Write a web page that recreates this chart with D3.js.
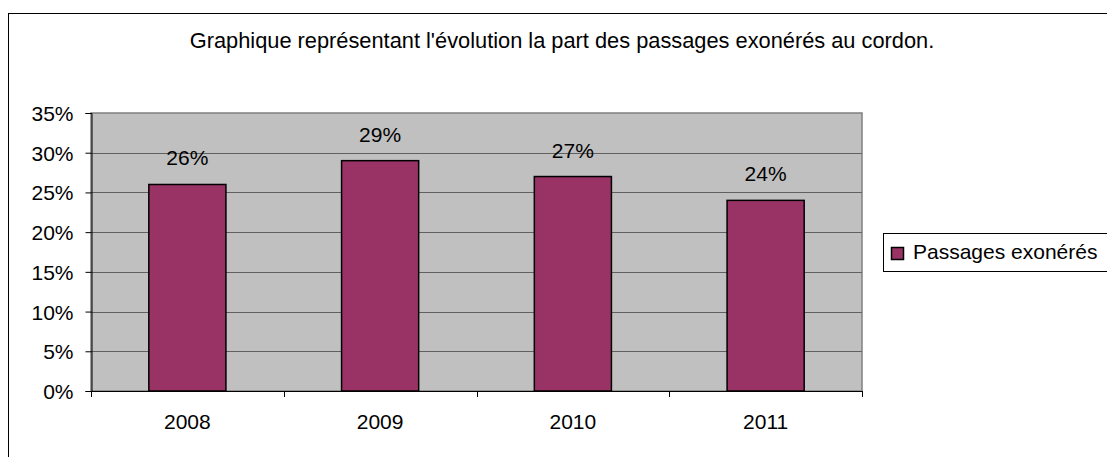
<!DOCTYPE html>
<html>
<head>
<meta charset="utf-8">
<script src="https://cdn.jsdelivr.net/npm/d3@7"></script>
<style>
  body { margin: 0; background: #fff; }
  svg text { font-family: "Liberation Sans", Arial, sans-serif; fill: #000; }
</style>
</head>
<body>
<div id="chart"></div>
<script>
// data
var years = ["2008", "2009", "2010", "2011"];
var shares = [26, 29, 27, 24];
var yTicks = [0, 5, 10, 15, 20, 25, 30, 35];
var seriesName = "Passages exonérés";
var title = "Graphique représentant l'évolution la part des passages exonérés au cordon.";

var W = 1107, H = 457;
var plot = { left: 91, top: 113, right: 862, bottom: 391 };
var fs = "21px";

var svg = d3.select("#chart").append("svg")
    .attr("width", W)
    .attr("height", H);

// outer frame (cut off on the right / bottom in the picture)
svg.append("rect")
    .attr("x", 8.5).attr("y", 13.5)
    .attr("width", 1102).attr("height", 460)
    .attr("fill", "#fff")
    .attr("stroke", "#000")
    .attr("stroke-width", 1);

svg.append("text")
    .attr("x", 562).attr("y", 48)
    .attr("text-anchor", "middle")
    .style("font-size", "21.8px")
    .text(title);

var x = d3.scaleBand()
    .domain(years)
    .range([plot.left, plot.right])
    .paddingInner(0.6)
    .paddingOuter(0.3);

var y = d3.scaleLinear()
    .domain([0, 35])
    .range([plot.bottom, plot.top]);

// plot area background
svg.append("rect")
    .attr("x", plot.left).attr("y", plot.top)
    .attr("width", plot.right - plot.left)
    .attr("height", plot.bottom - plot.top)
    .attr("fill", "#c0c0c0")
    .attr("stroke", "#808080")
    .attr("stroke-width", 1.5);

// gridlines
svg.append("g")
    .selectAll("line")
    .data(yTicks.slice(1, -1))
    .enter().append("line")
    .attr("x1", plot.left).attr("x2", plot.right)
    .attr("y1", function(d) { return Math.round(y(d)) + 0.5; })
    .attr("y2", function(d) { return Math.round(y(d)) + 0.5; })
    .attr("stroke", "#606060")
    .attr("stroke-width", 1);

// bars
svg.append("g")
    .selectAll("rect")
    .data(shares)
    .enter().append("rect")
    .attr("x", function(d, i) { return x(years[i]); })
    .attr("y", function(d) { return y(d); })
    .attr("width", x.bandwidth())
    .attr("height", function(d) { return y(0) - y(d); })
    .attr("fill", "#993366")
    .attr("stroke", "#000")
    .attr("stroke-width", 1.5);

// data labels
svg.append("g")
    .selectAll("text")
    .data(shares)
    .enter().append("text")
    .attr("x", function(d, i) { return x(years[i]) + x.bandwidth() / 2; })
    .attr("y", function(d) { return y(d) - 19; })
    .attr("text-anchor", "middle")
    .style("font-size", fs)
    .text(function(d) { return d + "%"; });

// y axis
var yAxis = d3.axisLeft(y)
    .tickValues(yTicks)
    .tickSize(6)
    .tickPadding(12)
    .tickFormat(function(d) { return d + "%"; });

var gy = svg.append("g")
    .attr("transform", "translate(" + (plot.left + 0.5) + ",0)")
    .call(yAxis);
gy.selectAll("text").style("font-size", fs).attr("dy", "0.36em");
gy.selectAll("line, path").attr("stroke", "#000");

// x axis: ticks at category boundaries
var step = (plot.right - plot.left) / years.length;
var gx = svg.append("g");
gx.append("line")
    .attr("x1", plot.left).attr("x2", plot.right)
    .attr("y1", plot.bottom + 0.5).attr("y2", plot.bottom + 0.5)
    .attr("stroke", "#000");
gx.selectAll(".tk")
    .data(d3.range(years.length + 1))
    .enter().append("line")
    .attr("class", "tk")
    .attr("x1", function(i) { return Math.round(plot.left + i * step) + 0.5; })
    .attr("x2", function(i) { return Math.round(plot.left + i * step) + 0.5; })
    .attr("y1", plot.bottom).attr("y2", plot.bottom + 6)
    .attr("stroke", "#000");
gx.selectAll("text")
    .data(years)
    .enter().append("text")
    .attr("x", function(d) { return x(d) + x.bandwidth() / 2; })
    .attr("y", 429)
    .attr("text-anchor", "middle")
    .style("font-size", fs)
    .text(function(d) { return d; });

// legend
var lg = svg.append("g");
lg.append("rect")
    .attr("x", 883.5).attr("y", 233.5)
    .attr("width", 240).attr("height", 38)
    .attr("fill", "#fff")
    .attr("stroke", "#000");
lg.append("rect")
    .attr("x", 891.5).attr("y", 247.5)
    .attr("width", 12).attr("height", 12)
    .attr("fill", "#993366")
    .attr("stroke", "#000")
    .attr("stroke-width", 1.5);
lg.append("text")
    .attr("x", 913).attr("y", 259)
    .style("font-size", fs)
    .text(seriesName);
</script>
</body>
</html>
